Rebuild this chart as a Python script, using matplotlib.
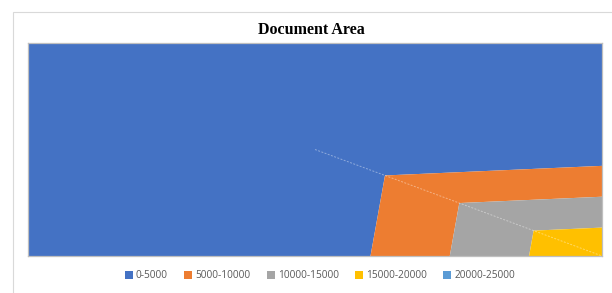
import numpy as np
import matplotlib
matplotlib.use("Agg")
import matplotlib.pyplot as plt
import matplotlib.tri as mtri
from matplotlib.patches import Patch, Rectangle

# ---- data ----
x_cats = [0, 1, 2]          # category positions
y_series = [0, 1, 2]        # series (depth) positions, bottom to top
# surface values, rows = series (bottom to top), cols = categories
z_row0 = [2000, 1500, 19600]
z_row1 = [1200, 290, 2350]
z_row2 = [800, 1000, 1500]
levels = [0, 5000, 10000, 15000, 20000, 25000]
band_labels = ["0-5000", "5000-10000", "10000-15000", "15000-20000", "20000-25000"]
band_colors = ["#4472C4", "#ED7D31", "#A5A5A5", "#FFC000", "#5B9BD5"]
title = "Document Area"

# ---- build triangulated surface ----
Z = np.array([z_row0, z_row1, z_row2], dtype=float)
nx, ny = len(x_cats), len(y_series)
X, Y = np.meshgrid(x_cats, y_series)
xf, yf, zf = X.ravel(), Y.ravel(), Z.ravel()
tris = []
for r in range(ny - 1):
    for c in range(nx - 1):
        bl = r * nx + c
        br = r * nx + c + 1
        tl = (r + 1) * nx + c
        tr = (r + 1) * nx + c + 1
        tris.append([tl, bl, br])
        tris.append([tl, br, tr])
tri = mtri.Triangulation(xf, yf, tris)

fig = plt.figure(figsize=(6.12, 2.93), dpi=100)
fig.patch.set_facecolor("white")
# outer chart frame
fig.patches.append(Rectangle((13 / 612, -0.1), 1.2, 1 - 12 / 293 + 0.1,
                             transform=fig.transFigure, fill=False,
                             edgecolor="#D9D9D9", lw=0.8))

ax = fig.add_axes([28 / 612, 1 - 256 / 293, (602 - 28) / 612, (256 - 43) / 293])
ax.tricontourf(tri, zf, levels=levels, colors=band_colors, antialiased=True)

# seam along the split diagonal of the cell containing the peak
r, c = 0, nx - 2
ax.plot([x_cats[c], x_cats[c + 1]], [y_series[r + 1], y_series[r]],
        color="white", alpha=0.4, lw=0.7, ls=(0, (2, 1.5)))

ax.set_xlim(x_cats[0], x_cats[-1])
ax.set_ylim(y_series[0], y_series[-1])
ax.set_xticks([])
ax.set_yticks([])
for s in ax.spines.values():
    s.set_color("#BFBFBF")
    s.set_linewidth(0.9)

fig.text(311 / 612, 1 - 30 / 293, title, ha="center", va="center",
         family="Liberation Serif", fontweight="bold", fontsize=11.5, color="black")

handles = [Patch(facecolor=col, edgecolor="none", label=lab)
           for col, lab in zip(band_colors, band_labels)]
fig.legend(handles=handles, loc="center", bbox_to_anchor=(320 / 612, 1 - 276 / 293),
           ncol=5, frameon=False, prop={"family": "Open Sans", "size": 7.3},
           labelcolor="#595959", handlelength=0.8, handleheight=0.8,
           handletextpad=0.3, columnspacing=1.6, borderaxespad=0)

fig.savefig("out.png", dpi=100)
